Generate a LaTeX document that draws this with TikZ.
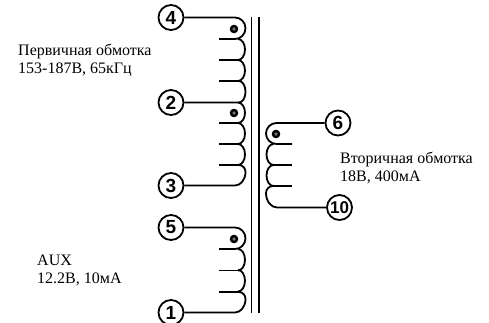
\documentclass[tikz,border=0pt]{standalone}
\usepackage{fontspec}
\setmainfont{Liberation Serif}
\newfontfamily\pinfont{Liberation Sans}
\tikzset{
  pin/.style={draw,circle,line width=1.8pt,inner sep=0pt,minimum size=25pt,font=\pinfont\bfseries\fontsize{19}{19}\selectfont},
  wire/.style={black,line width=1.8pt},
  note/.style={align=left,anchor=north west,inner sep=0pt,font=\fontsize{16}{18}\selectfont},
  phasedot/.style={draw=black,line width=2.4pt,fill=black!55,circle,inner sep=0pt,minimum size=6pt}
}

\begin{document}
\begin{tikzpicture}[x=1pt,y=-1pt]

\clip (0,0) rectangle (489,322);
\useasboundingbox (0,0) rectangle (489,322);

% pins
\node[pin] (P4) at (171,17.5) {4};
\node[pin] (P2) at (171,102.5) {2};
\node[pin] (P3) at (171,185.5) {3};
\node[pin] (P5) at (171,227.5) {5};
\node[pin] (P1) at (171,312.5) {1};
\node[pin] (P6) at (338,123) {6};
\node[pin,font=\pinfont\bfseries\fontsize{17}{17}\selectfont] (P10) at (339.5,207.5) {10};

% core
\coordinate (CA) at (251.5,17);
\coordinate (CB) at (251.5,313);
\coordinate (CC) at (259,17);
\coordinate (CD) at (259,313);
\draw[wire] (CA) -- (CB);
\draw[wire] (CC) -- (CD);

% winding 4-2
\coordinate (W4) at (235,17.5);
\draw[wire] (P4) -- (W4) arc(-90:90:10.5 and 10.75) -- (219,39);
\foreach \y in {39,60}
  \draw[wire] (238,\y) arc(-90:90:7 and 10.5);
\foreach \y in {60,81}
  \draw[wire] (219,\y) -- (239,\y);
\coordinate (W2) at (238,102.5);
\draw[wire] (239,81) arc(-90:90:6.5 and 10.75) -- (W2) -- (P2);
\node[phasedot] (D4) at (234,29) {};

% winding 2-3
\draw[wire] (238,102.5) arc(-90:90:7 and 10.25) -- (219,123);
\foreach \y in {123,144}
  \draw[wire] (238,\y) arc(-90:90:7 and 10.5);
\draw[wire] (219,144) -- (239,144);
\draw[wire] (219,165) -- (239,165);
\coordinate (W3) at (235,185.5);
\draw[wire] (239,165) arc(-90:0:6.5 and 7) arc(0:90:10.5 and 13.5) -- (W3) -- (P3);
\node[phasedot] (D2) at (234,113) {};

% winding 5-1
\coordinate (W5) at (235,227.5);
\draw[wire] (P5) -- (W5) arc(-90:90:10.5 and 10.75) -- (219,249);
\foreach \y in {249,270}
  \draw[wire] (238,\y) arc(-90:90:7 and 10.75);
\foreach \y in {270.5,292}
  \draw[wire] (219,\y) -- (239,\y);
\coordinate (W1) at (235,312.5);
\draw[wire] (239,292) arc(-90:0:6.5 and 7) arc(0:90:10.5 and 13.5) -- (W1) -- (P1);
\node[phasedot] (D5) at (234,239) {};

% winding 6-10
\coordinate (W6) at (276.5,123);
\draw[wire] (P6) -- (W6) arc(270:90:10.5) -- (292,144);
\foreach \y in {144,165}
  \draw[wire] (273.5,\y) arc(270:90:7 and 10.5);
\foreach \y in {165,186}
  \draw[wire] (273,\y) -- (292,\y);
\coordinate (W10) at (277,207.5);
\draw[wire] (273,186) arc(270:180:7 and 7) arc(180:90:11 and 14.5) -- (W10) -- (P10);
\node[phasedot] (D6) at (276,134) {};

% texts
\node[note] (T1) at (18,44) {Первичная обмотка\\153-187В, 65кГц};
\node[note] (T2) at (340,152) {Вторичная обмотка\\18В, 400мА};
\node[note] (T3) at (37,255) {AUX\\12.2В, 10мА};

\end{tikzpicture}
\end{document}
